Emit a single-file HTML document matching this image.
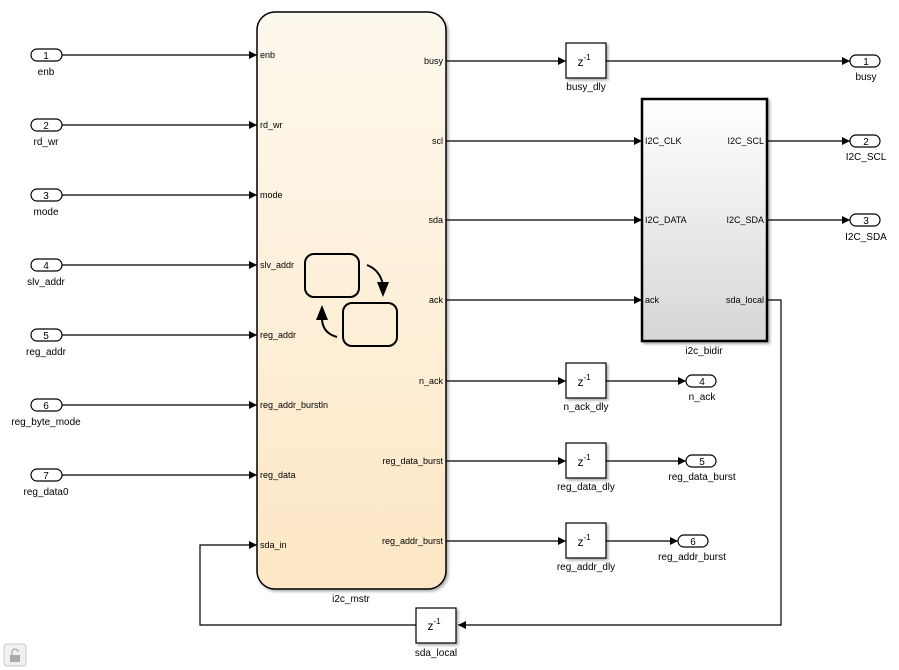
<!DOCTYPE html>
<html><head><meta charset="utf-8"><style>
html,body{margin:0;padding:0;background:#fff;}
svg{display:block;font-family:"Liberation Sans",Arial,sans-serif;}
</style></head><body>
<svg width="899" height="670" viewBox="0 0 899 670" xmlns="http://www.w3.org/2000/svg">
<defs>
<linearGradient id="sf" x1="0" y1="0" x2="0" y2="1"><stop offset="0" stop-color="#fdf8ee"/><stop offset="1" stop-color="#fde7c4"/></linearGradient>
<linearGradient id="bd" x1="0" y1="0" x2="0" y2="1"><stop offset="0" stop-color="#ffffff"/><stop offset="1" stop-color="#d6d6d6"/></linearGradient>
<marker id="a" markerUnits="userSpaceOnUse" markerWidth="8" markerHeight="8" refX="8" refY="4" orient="auto"><path d="M0,0 L8,4 L0,8 z" fill="#000"/></marker>
<filter id="sh" x="-5%" y="-5%" width="115%" height="115%"><feDropShadow dx="2" dy="2" stdDeviation="1.2" flood-color="#000" flood-opacity="0.3"/></filter>
</defs>

<!-- main chart -->
<rect x="257" y="12" width="189" height="577" rx="18" fill="url(#sf)" stroke="#000" stroke-width="1.5" filter="url(#sh)"/>
<text x="351" y="602" font-size="10" text-anchor="middle">i2c_mstr</text>
<g font-size="9">
<text x="260" y="58">enb</text><text x="260" y="128">rd_wr</text><text x="260" y="198">mode</text>
<text x="260" y="268">slv_addr</text><text x="260" y="338">reg_addr</text><text x="260" y="408">reg_addr_burstln</text>
<text x="260" y="478">reg_data</text><text x="260" y="548">sda_in</text>
</g>
<g font-size="9" text-anchor="end">
<text x="443" y="64">busy</text><text x="443" y="144">scl</text><text x="443" y="223">sda</text>
<text x="443" y="303">ack</text><text x="443" y="384">n_ack</text><text x="443" y="464">reg_data_burst</text>
<text x="443" y="544">reg_addr_burst</text>
</g>
<!-- stateflow icon -->
<rect x="305" y="254" width="54" height="43" rx="9" fill="none" stroke="#000" stroke-width="2"/>
<rect x="343" y="303" width="54" height="43" rx="9" fill="none" stroke="#000" stroke-width="2"/>
<path d="M367,265 Q380,270 383,285" fill="none" stroke="#000" stroke-width="2"/>
<path d="M377,282 L389,282 L383,297 z" fill="#000"/>
<path d="M337,337 Q322,333 322,318" fill="none" stroke="#000" stroke-width="2"/>
<path d="M316,320 L328,320 L322,305 z" fill="#000"/>

<!-- inports -->
<g stroke="#000" stroke-width="1.2" fill="#fff">
<rect x="31" y="49" width="31" height="12" rx="6"/><rect x="31" y="119" width="31" height="12" rx="6"/>
<rect x="31" y="189" width="31" height="12" rx="6"/><rect x="31" y="259" width="31" height="12" rx="6"/>
<rect x="31" y="329" width="31" height="12" rx="6"/><rect x="31" y="399" width="31" height="12" rx="6"/>
<rect x="31" y="469" width="31" height="12" rx="6"/>
</g>
<g font-size="10" text-anchor="middle">
<text x="46" y="59">1</text><text x="46" y="129">2</text><text x="46" y="199">3</text><text x="46" y="269">4</text>
<text x="46" y="339">5</text><text x="46" y="409">6</text><text x="46" y="479">7</text>
<text x="46" y="75">enb</text><text x="46" y="145">rd_wr</text><text x="46" y="215">mode</text><text x="46" y="285">slv_addr</text>
<text x="46" y="355">reg_addr</text><text x="46" y="425">reg_byte_mode</text><text x="46" y="495">reg_data0</text>
</g>
<g stroke="#000" stroke-width="1.2" fill="none" marker-end="url(#a)">
<path d="M62,55H257"/><path d="M62,125H257"/><path d="M62,195H257"/><path d="M62,265H257"/>
<path d="M62,335H257"/><path d="M62,405H257"/><path d="M62,475H257"/>
<path d="M446,61H566"/><path d="M606,61H850"/>
<path d="M446,141H642"/><path d="M446,220H642"/><path d="M446,300H642"/>
<path d="M767,141H850"/><path d="M767,220H850"/>
<path d="M446,381H566"/><path d="M606,381H686"/>
<path d="M446,461H566"/><path d="M606,461H686"/>
<path d="M446,541H566"/><path d="M606,541H678"/>
<path d="M767,300H781V625H458"/>
<path d="M416,625H200V545H257"/>
</g>

<!-- delays -->
<g stroke="#000" stroke-width="1.2" fill="#fff" filter="url(#sh)">
<rect x="566" y="43" width="40" height="35"/><rect x="566" y="363" width="40" height="35"/>
<rect x="566" y="443" width="40" height="35"/><rect x="566" y="523" width="40" height="35"/>
<rect x="416" y="608" width="40" height="35"/>
</g>
<g font-size="12" text-anchor="middle">
<text x="584" y="66">z<tspan font-size="8" dy="-6">-1</tspan></text>
<text x="584" y="386">z<tspan font-size="8" dy="-6">-1</tspan></text>
<text x="584" y="466">z<tspan font-size="8" dy="-6">-1</tspan></text>
<text x="584" y="546">z<tspan font-size="8" dy="-6">-1</tspan></text>
<text x="434" y="630">z<tspan font-size="8" dy="-6">-1</tspan></text>
</g>
<g font-size="10" text-anchor="middle">
<text x="586" y="90">busy_dly</text><text x="586" y="410">n_ack_dly</text>
<text x="586" y="490">reg_data_dly</text><text x="586" y="570">reg_addr_dly</text>
<text x="436" y="656">sda_local</text>
</g>

<!-- i2c_bidir -->
<rect x="642" y="99" width="125" height="242" fill="url(#bd)" stroke="#000" stroke-width="2.5" filter="url(#sh)"/>
<text x="704" y="354" font-size="10" text-anchor="middle">i2c_bidir</text>
<g font-size="9">
<text x="645" y="144">I2C_CLK</text><text x="645" y="223">I2C_DATA</text><text x="645" y="303">ack</text>
</g>
<g font-size="9" text-anchor="end">
<text x="764" y="144">I2C_SCL</text><text x="764" y="223">I2C_SDA</text><text x="764" y="303">sda_local</text>
</g>

<!-- outports -->
<g stroke="#000" stroke-width="1.2" fill="#fff">
<rect x="850" y="55" width="30" height="12" rx="6"/><rect x="850" y="135" width="30" height="12" rx="6"/>
<rect x="850" y="214" width="30" height="12" rx="6"/><rect x="686" y="375" width="30" height="12" rx="6"/>
<rect x="686" y="455" width="30" height="12" rx="6"/><rect x="678" y="535" width="30" height="12" rx="6"/>
</g>
<g font-size="10" text-anchor="middle">
<text x="866" y="65">1</text><text x="866" y="145">2</text><text x="866" y="224">3</text>
<text x="702" y="385">4</text><text x="702" y="465">5</text><text x="693" y="545">6</text>
<text x="866" y="80">busy</text><text x="866" y="160">I2C_SCL</text><text x="866" y="240">I2C_SDA</text>
<text x="702" y="400">n_ack</text><text x="702" y="480">reg_data_burst</text><text x="692" y="560">reg_addr_burst</text>
</g>

<!-- lock icon -->
<rect x="4" y="644" width="22" height="22" rx="3" fill="#f0f0f0" stroke="#c8c8c8"/>
<path d="M12,655 v-3 a3,3 0 0 1 6,0" fill="none" stroke="#aaa" stroke-width="1.3"/>
<rect x="10" y="655" width="10" height="7" fill="#aaa"/>
</svg>
</body></html>
